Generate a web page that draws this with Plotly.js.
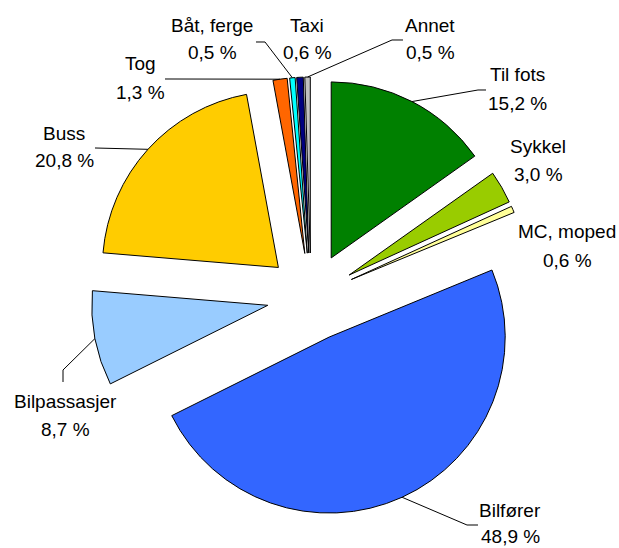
<!DOCTYPE html>
<html><head><meta charset="utf-8">
<script src="https://cdn.plot.ly/plotly-3.0.1.min.js"></script>
<style>html,body{margin:0;padding:0;background:#fff}#chart{width:619px;height:548px}</style>
</head><body><div id="chart"></div>
<script>
// ---- data ----
const categories = ["Til fots","Sykkel","MC, moped","Bilfører","Bilpassasjer","Buss","Tog","Båt, ferge","Taxi","Annet"];
const shares = [15.2, 3.0, 0.6, 48.9, 8.7, 20.8, 1.3, 0.5, 0.6, 0.5];
const shareLabels = ["15,2 %","3,0 %","0,6 %","48,9 %","8,7 %","20,8 %","1,3 %","0,5 %","0,6 %","0,5 %"];
const colors = ["#008000","#99CC00","#FFFF99","#3366FF","#99CCFF","#FFCC00","#FF6600","#00FFFF","#000080","#C0C0C0"];

// ---- layout (pixels) ----
const W = 619, H = 548;
const PULL = 0.25;
const domX = [91, 531], domY = [77, 517]; // pixel box of pie
const labelPos = [[517,75],[538,147],[567,232],[510,510],[65,401],[64,133],[140,64],[212,25],[307,25],[430,25]];
const lineGaps = [28,28,28,26,28,28,28,28,28,28];
const leaderElbows = [
  [[486,90],[478,90]], null, null,
  [[478,525],[467,525]],
  [[63,382],[63,370]],
  [[95,148]],
  [[165,79]],
  [[256,42],[265,42]],
  null,
  [[403,40],[392,40]]
];

const FONT = '"Liberation Sans Narrow", "Arial Narrow", "Liberation Sans", Arial, sans-serif';
const px = x => x / W, py = y => 1 - y / H;

// pie geometry, same rule Plotly uses
const cx = (domX[0] + domX[1]) / 2, cy = (domY[0] + domY[1]) / 2;
const r = Math.min(domX[1]-domX[0], domY[1]-domY[0]) / 2 / (1 + PULL);
const total = shares.reduce((a,b)=>a+b,0);
let cum = 0;
const tips = shares.map(v => {
  const mid = (cum + v/2) / total * 2 * Math.PI; cum += v;
  const d = r * (1 + PULL);
  return [cx + d*Math.sin(mid), cy - d*Math.cos(mid)];
});

const shapes = [];
leaderElbows.forEach((el, i) => {
  if (!el) return;
  const pts = el.concat([tips[i]]);
  const path = pts.map((p, k) => (k ? 'L' : 'M') + px(p[0]).toFixed(5) + ',' + py(p[1]).toFixed(5)).join(' ');
  shapes.push({type:'path', xref:'paper', yref:'paper', path, line:{color:'#000', width:1}});
});

const annotations = [];
categories.forEach((c, i) => {
  const [x, y] = labelPos[i];
  annotations.push({xref:'paper', yref:'paper', x:px(x), y:py(y), text:c, showarrow:false, xanchor:'center', yanchor:'middle', font:{family:FONT, size:19, color:'#000'}});
  annotations.push({xref:'paper', yref:'paper', x:px(x), y:py(y+lineGaps[i]), text:shareLabels[i], showarrow:false, xanchor:'center', yanchor:'middle', font:{family:FONT, size:19, color:'#000'}});
});

const trace = {
  type:'pie', values:shares, labels:categories, sort:false, direction:'clockwise', rotation:0,
  pull:PULL, textinfo:'none', hoverinfo:'none', showlegend:false,
  marker:{colors, line:{color:'#000', width:1}},
  domain:{x:[px(domX[0]), px(domX[1])], y:[py(domY[1]), py(domY[0])]}
};

Plotly.newPlot('chart', [trace], {
  width:W, height:H, margin:{l:0,r:0,t:0,b:0},
  paper_bgcolor:'#fff', plot_bgcolor:'#fff',
  shapes, annotations, showlegend:false
}, {staticPlot:true});
</script></body></html>
